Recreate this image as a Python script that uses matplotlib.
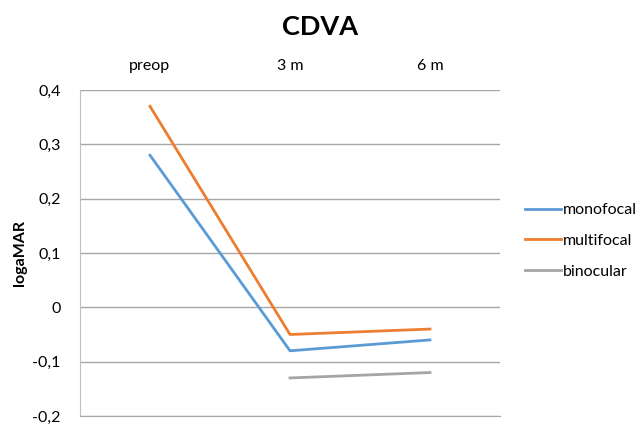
import matplotlib
matplotlib.use("Agg")
import matplotlib.pyplot as plt
import numpy as np

categories = ["preop", "3 m", "6 m"]
monofocal = [0.28, -0.08, -0.06]
multifocal = [0.37, -0.05, -0.04]
binocular = [np.nan, -0.13, -0.12]
yticks = [-0.2, -0.1, 0, 0.1, 0.2, 0.3, 0.4]
ytick_labels = ["-0,2", "-0,1", "0", "0,1", "0,2", "0,3", "0,4"]

plt.rcParams['font.family'] = ['Lato', 'DejaVu Sans']

fig = plt.figure(figsize=(6.41, 4.24), dpi=100)
ax = fig.add_axes([80/641, 1-416/424, 420/641, 326/424])

x = np.arange(len(categories))
ax.plot(x, monofocal, color="#5B9BD5", lw=2, label="monofocal")
ax.plot(x, multifocal, color="#ED7D31", lw=2, label="multifocal")
ax.plot(x, binocular, color="#A5A5A5", lw=2, label="binocular")

ax.set_xlim(-0.5, 2.5)
ax.set_ylim(-0.2, 0.4)
ax.set_yticks(yticks)
ax.set_yticklabels(ytick_labels, fontsize=11.5)
ax.grid(axis='y', color="#A6A6A6", lw=1)
ax.set_axisbelow(True)
ax.xaxis.tick_top()
ax.set_xticks(x)
ax.set_xticklabels(categories, fontsize=11.5)
ax.tick_params(axis='x', length=0, pad=12)
ax.tick_params(axis='y', length=0, pad=14)
for s in ['top', 'right']:
    ax.spines[s].set_visible(False)
ax.spines['left'].set_color("#BFBFBF")
ax.spines['bottom'].set_color("#A6A6A6")

ax.set_ylabel("logaMAR", fontsize=11.5, fontweight='bold', labelpad=4)
fig.text(320/641, 1-27/424, "CDVA", fontsize=19.5, fontweight='bold', ha='center', va='center')

ax.legend(loc='center left', bbox_to_anchor=(519/641, 1-241/424), bbox_transform=fig.transFigure,
          frameon=False, fontsize=11.5, handlelength=2.2, handletextpad=0.15, labelspacing=1.05,
          borderaxespad=0.0)

fig.savefig("out.png", dpi=100)
